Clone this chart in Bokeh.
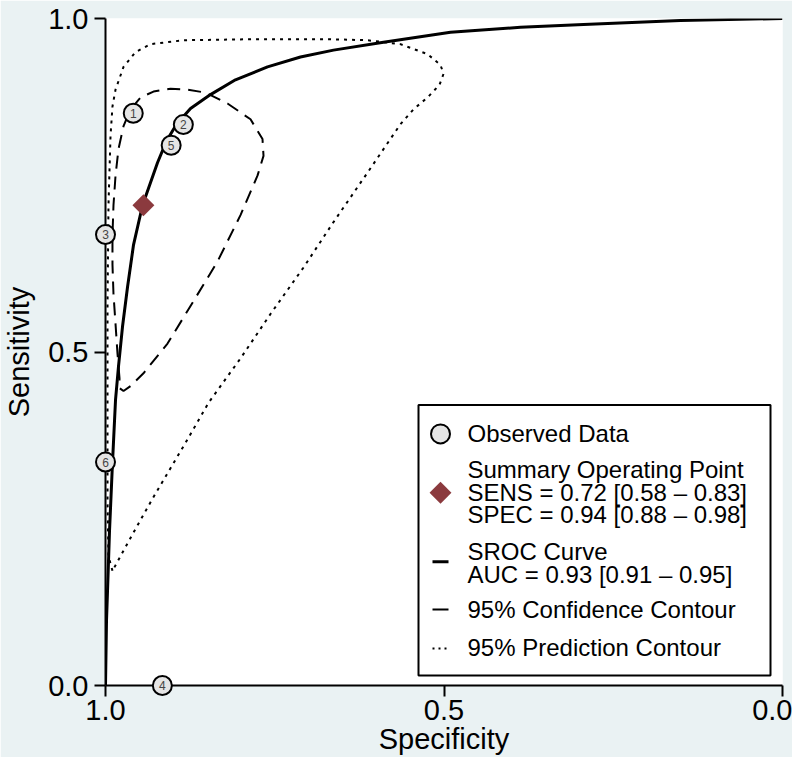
import numpy as np
from bokeh.plotting import figure
from bokeh.models import Range1d, FixedTicker, PrintfTickFormatter, ColumnDataSource
from bokeh.core.properties import value
from bokeh.embed import file_html
from bokeh.resources import INLINE

FONT = "Liberation Sans"
BG = "#EAF2F3"
MAROON = "#8B3A3E"
CIRCLE_FILL = "#E5E5E5"

# ---------------- data ----------------
study_id = ["1", "2", "3", "4", "5", "6"]
study_spec = [0.959, 0.885, 1.000, 0.916, 0.903, 1.000]
study_sens = [0.858, 0.841, 0.676, 0.000, 0.810, 0.335]

summary_spec = [0.944]
summary_sens = [0.720]

sroc_spec = [1.0, 0.9985, 0.9970, 0.9941, 0.9897, 0.9852, 0.9808, 0.9749, 0.9675,
             0.9586, 0.9453, 0.9232, 0.9099, 0.8951, 0.8744, 0.8449, 0.8080, 0.7607,
             0.7120, 0.6632, 0.5894, 0.4904, 0.3870, 0.2939, 0.1507, 0.0]
sroc_sens = [0.0, 0.0978, 0.1422, 0.2311, 0.3333, 0.4281, 0.4785, 0.5378, 0.5970,
             0.6607, 0.7200, 0.7837, 0.8163, 0.8415, 0.8652, 0.8859, 0.9081, 0.9274,
             0.9422, 0.9526, 0.9644, 0.9793, 0.9867, 0.9911, 0.9970, 1.0]

conf_spec = [0.9793, 0.9823, 0.9852, 0.9882, 0.9897, 0.9897, 0.9882, 0.9852, 0.9808,
             0.9734, 0.9631, 0.9483, 0.9291, 0.9040, 0.8789, 0.8523, 0.8198, 0.7858,
             0.7681, 0.7666, 0.7755, 0.8006, 0.8346, 0.8700, 0.9084, 0.9439, 0.9631,
             0.9734, 0.9793, 0.9793]
conf_sens = [0.4607, 0.4978, 0.5422, 0.5867, 0.6311, 0.6756, 0.7200, 0.7644, 0.8044,
             0.8385, 0.8637, 0.8815, 0.8904, 0.8948, 0.8933, 0.8889, 0.8726, 0.8489,
             0.8193, 0.7941, 0.7644, 0.7052, 0.6356, 0.5763, 0.5126, 0.4681, 0.4489,
             0.4415, 0.4459, 0.4607]

pred_spec = [0.9897, 0.9956, 0.9970, 0.9970, 0.9970, 0.9956, 0.9926, 0.9897, 0.9852,
             0.9734, 0.9557, 0.9335, 0.8848, 0.7858, 0.6677, 0.6130, 0.5643, 0.5244,
             0.5052, 0.5007, 0.5066, 0.5229, 0.5451, 0.5643, 0.6130, 0.6632, 0.7075,
             0.7563, 0.8006, 0.8479, 0.8789, 0.9306, 0.9601, 0.9897]
pred_sens = [0.1719, 0.1941, 0.2756, 0.4237, 0.5719, 0.7200, 0.8237, 0.8681, 0.8933,
             0.9274, 0.9496, 0.9615, 0.9674, 0.9689, 0.9689, 0.9674, 0.9615, 0.9467,
             0.9304, 0.9170, 0.9007, 0.8830, 0.8637, 0.8415, 0.7689, 0.6948, 0.6267,
             0.5570, 0.4904, 0.4237, 0.3689, 0.2800, 0.2267, 0.1719]

tick_values = [0.0, 0.5, 1.0]

x_title = "Specificity"
y_title = "Sensitivity"

legend_lines = ["Observed Data",
                "Summary Operating Point",
                "SENS = 0.72 [0.58 \u2013 0.83]",
                "SPEC = 0.94 [0.88 \u2013 0.98]",
                "SROC Curve",
                "AUC = 0.93 [0.91 \u2013 0.95]",
                "95% Confidence Contour",
                "95% Prediction Contour"]

# ---------------- layout (pixel positions inside the figure) ----------------
FIG_W, FIG_H = 792, 757
F_LEFT, F_RIGHT, F_TOP, F_BOTTOM = 105, 782, 18, 686

def X(px):
    return 1 - (px - F_LEFT) / float(F_RIGHT - F_LEFT)

def Y(py):
    return (F_BOTTOM - py) / float(F_BOTTOM - F_TOP)

p = figure(width=FIG_W, height=FIG_H,
           x_range=Range1d(1, 0), y_range=Range1d(0, 1),
           output_backend="svg", toolbar_location=None,
           min_border_left=F_LEFT, min_border_right=FIG_W - F_RIGHT,
           min_border_top=F_TOP, min_border_bottom=FIG_H - F_BOTTOM,
           background_fill_color="white", border_fill_color=BG,
           outline_line_color=None)
p.xgrid.visible = False
p.ygrid.visible = False

for ax in (p.xaxis[0], p.yaxis[0]):
    ax.ticker = FixedTicker(ticks=tick_values)
    ax.formatter = PrintfTickFormatter(format="%.1f")
    ax.major_tick_out = 11
    ax.major_tick_in = 0
    ax.minor_tick_line_color = None
    ax.axis_line_width = 2
    ax.axis_line_color = "black"
    ax.major_tick_line_width = 2
    ax.major_tick_line_color = "black"
    ax.major_label_text_font = FONT
    ax.major_label_text_font_size = "29px"
    ax.major_label_text_color = "black"
    ax.axis_label_text_font = FONT
    ax.axis_label_text_font_size = "29px"
    ax.axis_label_text_font_style = "normal"
    ax.axis_label_text_color = "black"

p.xaxis.axis_label = x_title
p.yaxis.axis_label = y_title
p.xaxis.major_label_standoff = 3
p.xaxis.axis_label_standoff = 0
p.yaxis.major_label_standoff = 6
p.yaxis.axis_label_standoff = 10

# ---------------- curves ----------------
p.line(pred_spec, pred_sens, line_color="black", line_width=2, line_dash="3 5")
p.line(conf_spec, conf_sens, line_color="black", line_width=2, line_dash="13 8")
p.line(sroc_spec, sroc_sens, line_color="black", line_width=3)

p.scatter(summary_spec, summary_sens, marker="square", angle=np.pi / 4, size=15.5,
          fill_color=MAROON, line_color=None)

src = ColumnDataSource(dict(x=study_spec, y=study_sens, label=study_id))
p.scatter("x", "y", source=src, marker="circle", size=19, fill_color=CIRCLE_FILL,
          line_color="black", line_width=2, level="overlay")
p.text("x", "y", text="label", source=src, text_font=value(FONT),
       text_font_size="12px", text_color="#444444", text_align="center",
       text_baseline="middle", level="overlay")

# ---------------- legend ----------------
p.quad(left=[X(418)], right=[X(770)], top=[Y(405)], bottom=[Y(676)],
       fill_color="white", line_color="black", line_width=2)

p.scatter([X(440)], [Y(434)], marker="circle", size=19, fill_color=CIRCLE_FILL,
          line_color="black", line_width=2)
p.scatter([X(440)], [Y(493)], marker="square", angle=np.pi / 4, size=15.5,
          fill_color=MAROON, line_color=None)
p.line([X(432), X(448)], [Y(562), Y(562)], line_color="black", line_width=3)
p.line([X(432), X(448)], [Y(610), Y(610)], line_color="black", line_width=2)
p.line([X(432), X(448)], [Y(649), Y(649)], line_color="black", line_width=2,
       line_dash="2 4")

legend_py = [434, 469.5, 493, 515, 551.5, 574.5, 610, 648]
lsrc = ColumnDataSource(dict(x=[X(467)] * len(legend_lines),
                             y=[Y(v) for v in legend_py],
                             t=legend_lines))
p.text("x", "y", text="t", source=lsrc, text_font=value(FONT),
       text_font_size="24px", text_color="black", text_align="left",
       text_baseline="middle")

open("out.html", "w").write(file_html(p, INLINE))
